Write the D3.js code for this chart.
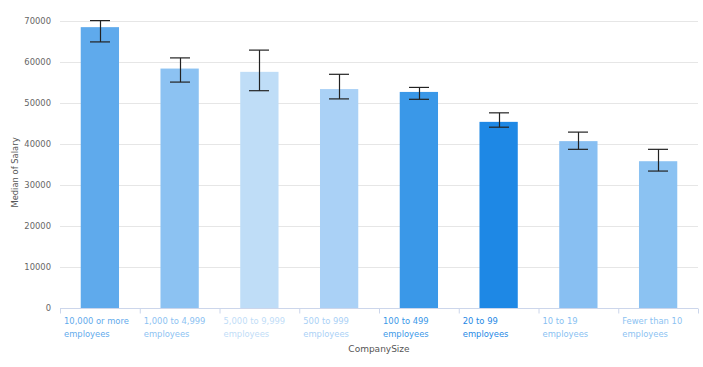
<!DOCTYPE html>
<html>
<head>
<meta charset="utf-8">
<script src="https://cdn.jsdelivr.net/npm/d3@7"></script>
<style>
	body { margin: 0; background: #fff; }
	text { font-family: "DejaVu Sans", Verdana, sans-serif; }
</style>
</head>
<body>
<svg id="chart" width="703" height="367"></svg>
<script>
// chart values
let categories	= ['10,000 or more employees', '1,000 to 4,999 employees', '5,000 to 9,999 employees', '500 to 999 employees', '100 to 499 employees', '20 to 99 employees', '10 to 19 employees', 'Fewer than 10 employees'];
let medians		= [68500, 58400, 57600, 53400, 52700, 45400, 40700, 35800];
let errHigh		= [70100, 61000, 62900, 57000, 53800, 47600, 42900, 38700];
let errLow		= [64900, 55100, 53000, 51000, 50900, 44100, 38700, 33400];
let yTicks		= [0, 10000, 20000, 30000, 40000, 50000, 60000, 70000];
let colors		= ['#5faaec', '#8cc2f2', '#bfddf7', '#aad1f6', '#3a98e8', '#1e88e5', '#88bff2', '#8bc2f2'];

let svg		= d3.select('#chart');
let margin	= { left: 60, right: 5, top: 21, bottom: 59 };
let width	= 703 - margin.left - margin.right;
let height	= 367 - margin.top - margin.bottom;

let x	= d3.scaleBand().domain(categories).range([margin.left, margin.left + width]).paddingInner(0).paddingOuter(0);
let y	= d3.scaleLinear().domain([0, 70000]).range([margin.top + height, margin.top]);

// grid
svg.append('g').selectAll('line').data(yTicks.slice(1)).join('line')
	.attr('x1', margin.left).attr('x2', margin.left + width)
	.attr('y1', d => y(d) + .5).attr('y2', d => y(d) + .5)
	.style('stroke', '#e6e6e6').style('stroke-width', 1);

svg.append('g').selectAll('text').data(yTicks).join('text')
	.attr('x', 51).attr('y', d => y(d)).attr('dy', '0.35em')
	.attr('text-anchor', 'end').style('font-size', '8.4px').style('fill', '#666')
	.text(d => d);

// bars
let bw	= x.bandwidth() * .48;
svg.append('g').selectAll('rect').data(categories).join('rect')
	.attr('x', d => x(d) + (x.bandwidth() - bw) / 2)
	.attr('y', (d, i) => y(medians[i]))
	.attr('width', bw)
	.attr('height', (d, i) => y(0) - y(medians[i]))
	.style('fill', (d, i) => colors[i]);

// error bars
let err	= svg.append('g').selectAll('g').data(categories).join('g')
	.attr('transform', d => 'translate(' + Math.round(x(d) + x.bandwidth() / 2) + ',0)')
	.style('stroke', '#222').style('stroke-width', 1.2);

err.append('line').attr('x1', .5).attr('x2', .5).attr('y1', (d, i) => y(errHigh[i])).attr('y2', (d, i) => y(errLow[i]));
err.append('line').attr('x1', -10).attr('x2', 10).attr('y1', (d, i) => y(errHigh[i])).attr('y2', (d, i) => y(errHigh[i]));
err.append('line').attr('x1', -10).attr('x2', 10).attr('y1', (d, i) => y(errLow[i])).attr('y2', (d, i) => y(errLow[i]));

// x axis
let base	= y(0) + .5;
svg.append('line').attr('x1', margin.left).attr('x2', margin.left + width).attr('y1', base).attr('y2', base)
	.style('stroke', '#ccd6eb').style('stroke-width', 1);

svg.append('g').selectAll('line').data(categories.concat([null])).join('line')
	.attr('x1', (d, i) => margin.left + i * x.bandwidth() + .5).attr('x2', (d, i) => margin.left + i * x.bandwidth() + .5)
	.attr('y1', base).attr('y2', base + 5)
	.style('stroke', '#ccd6eb');

let labels	= svg.append('g').selectAll('text').data(categories).join('text')
	.attr('x', d => x(d) + 4).attr('y', 324)
	.style('font-size', '8.4px').style('fill', (d, i) => colors[i]);

labels.each(function(d) {
	let words	= d.split(' ');
	let first	= words.slice(0, -1).join(' ');
	let second	= words[words.length - 1];
	let t		= d3.select(this);
	t.append('tspan').attr('x', x(d) + 4).text(first);
	t.append('tspan').attr('x', x(d) + 4).attr('dy', 12.5).text(second);
});

svg.append('text').attr('x', margin.left + width / 2).attr('y', 352)
	.attr('text-anchor', 'middle').style('font-size', '9px').style('fill', '#555')
	.text('CompanySize');

svg.append('text').attr('transform', 'translate(18,' + (margin.top + height / 2 + 8) + ') rotate(-90)')
	.attr('text-anchor', 'middle').style('font-size', '8.4px').style('fill', '#555')
	.text('Median of Salary');
</script>
</body>
</html>
